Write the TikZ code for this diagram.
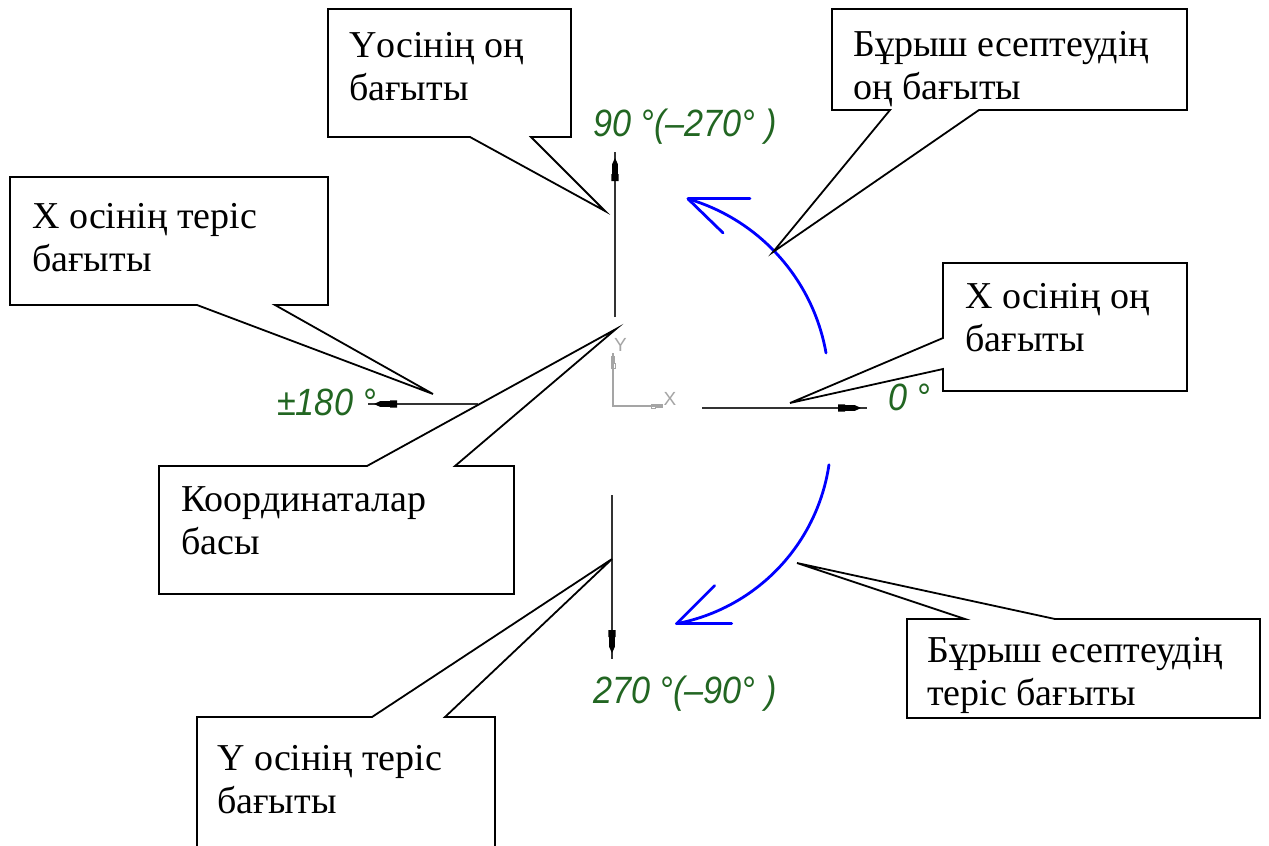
\documentclass[tikz,border=0pt]{standalone}
\usepackage{fontspec}
\setmainfont{Liberation Serif}
\newfontfamily\gostfont[FakeStretch=0.9]{Liberation Sans}
\newfontfamily\iconfont{Liberation Sans}
\definecolor{dimgreen}{RGB}{34,102,34}
\definecolor{turnblue}{RGB}{0,0,255}
\definecolor{icongray}{RGB}{165,165,165}
\usetikzlibrary{calc}
\begin{document}
\begin{tikzpicture}[x=1pt,y=-1pt,
  balloon/.style={draw=black, line width=1.8pt, fill=white, line join=miter},
  caption/.style={font=\fontsize{38}{43}\selectfont, align=left, inner sep=0pt, anchor=north west},
  axisline/.style={line width=1.5pt, draw=black!80},
  angletext/.style={font=\gostfont\itshape\fontsize{38}{44}\selectfont, text=dimgreen, inner sep=0pt, anchor=base west},
  iconline/.style={draw=icongray, line width=1.4pt},
  iconlbl/.style={font=\iconfont\fontsize{19}{21}\selectfont, text=icongray, inner sep=0pt},
  turn/.style={draw=turnblue, line width=2.8pt, line cap=round},
  kompas/.pic={\fill[black] (-6,0) -- (-12,-2.8) -- (-22,-2.8) -- (-22,-3.6) -- (-29,-3.6)
               -- (-29,3.6) -- (-22,3.6) -- (-22,2.8) -- (-12,2.8) -- cycle;},
]
\useasboundingbox (0,0) rectangle (1269,846);
\clip (0,0) rectangle (1269,846);
\fill[white] (0,0) rectangle (1269,846);

% ---- axes with their end marks ----
\coordinate (yp-tip) at (615,152); \coordinate (yp-end) at (615,317);
\coordinate (ym-tip) at (612,659); \coordinate (ym-end) at (612,495);
\coordinate (xp-tip) at (867,408); \coordinate (xp-end) at (702,408);
\coordinate (xm-tip) at (368,404); \coordinate (xm-end) at (478,404);
\draw[axisline] (yp-end) -- (yp-tip);
\draw[axisline] (ym-end) -- (ym-tip);
\draw[axisline] (xp-end) -- (xp-tip);
\draw[axisline] (xm-end) -- (xm-tip);
\pic[rotate=90]  at (yp-tip) {kompas};
\pic[rotate=-90] at (ym-tip) {kompas};
\pic             at (xp-tip) {kompas};
\pic[rotate=180] at (xm-tip) {kompas};

% ---- angle values ----
\node[angletext] (a90)  at (593,136) {90 °(–270° )};
\node[angletext] (a0)   at (888,410) {0 °};
\node[angletext] (a180) at (277,415) {±180 °};
\node[angletext] (a270) at (593,703) {270 °(–90° )};

% ---- small coordinate-system sign ----
\coordinate (ico-top) at (613,353);
\coordinate (ico-org) at (613,406);
\coordinate (ico-right) at (662,406);
\draw[iconline] (ico-top) -- (ico-org) -- (ico-right);
\fill[icongray] (611.3,356) rectangle (614.7,363);
\draw[icongray, line width=0.8pt] (611,363) rectangle (615,368);
\draw[icongray, line width=0.8pt] (651,404) rectangle (655,408);
\fill[icongray] (655,404.3) rectangle (663,407.7);
\node[iconlbl] (ico-y) at (620.5,345) {Y};
\node[iconlbl] (ico-x) at (670,399) {X};

% ---- rotation arrows ----
\coordinate (ccwC) at (633,387);
\path (ccwC) ++(-10:196) coordinate (ccw-start);
\draw[turn] (ccw-start) arc[start angle=-10, end angle=-73.7, radius=196] coordinate (ccw-tip);
\draw[turn] (ccw-tip) -- ++(62,0);
\draw[turn] (ccw-tip) -- ++(35,34);

\coordinate (cwC) at (641,437);
\path (cwC) ++(8.4:190) coordinate (cw-start);
\draw[turn] (cw-start) arc[start angle=8.4, end angle=79.2, radius=190] coordinate (cw-tip);
\draw[turn] (cw-tip) -- ++(55,0);
\draw[turn] (cw-tip) -- ++(38,-38);

% ---- callouts ----
\coordinate (tipYpos) at (605,211);
\draw[balloon] (328,9) -- (571,9) -- (571,137) -- (531,137) -- (tipYpos) -- (470,137) -- (328,137) -- cycle;
\node[caption] (capYpos) at (349,27) {\strut Yосінің оң\\\strut бағыты};

\coordinate (tipTurnPos) at (773,252);
\draw[balloon] (832,9) -- (1187,9) -- (1187,110) -- (979,110) -- (tipTurnPos) -- (890,110) -- (832,110) -- cycle;
\node[caption] (capTurnPos) at (853,26) {\strut Бұрыш есептеудің\\\strut оң бағыты};

\coordinate (tipXneg) at (433,394);
\draw[balloon] (10,177) -- (328,177) -- (328,305) -- (275,305) -- (tipXneg) -- (197,305) -- (10,305) -- cycle;
\node[caption] (capXneg) at (32,198) {\strut X осінің теріс\\\strut бағыты};

\coordinate (tipOrigin) at (616,329);
\draw[balloon] (159,466) -- (367,466) -- (tipOrigin) -- (455,466) -- (514,466) -- (514,594) -- (159,594) -- cycle;
\node[caption] (capOrigin) at (181,481) {\strut Координаталар\\\strut басы};

\coordinate (tipXpos) at (790,403);
\draw[balloon] (943,263) -- (1187,263) -- (1187,391) -- (943,391) -- (943,369) -- (tipXpos) -- (943,338) -- cycle;
\node[caption] (capXpos) at (965,278) {\strut X осінің оң\\\strut бағыты};

\coordinate (tipTurnNeg) at (797,563);
\draw[balloon] (907,619) -- (965,619) -- (tipTurnNeg) -- (1055,619) -- (1260,619) -- (1260,718) -- (907,718) -- cycle;
\node[caption] (capTurnNeg) at (927,632) {\strut Бұрыш есептеудің\\\strut теріс бағыты};

\coordinate (tipYneg) at (612,559);
\draw[balloon] (197,717) -- (372,717) -- (tipYneg) -- (445,717) -- (495,717) -- (495,870) -- (197,870) -- cycle;
\node[caption] (capYneg) at (217,740) {\strut Y осінің теріс\\\strut бағыты};
\end{tikzpicture}
\end{document}
